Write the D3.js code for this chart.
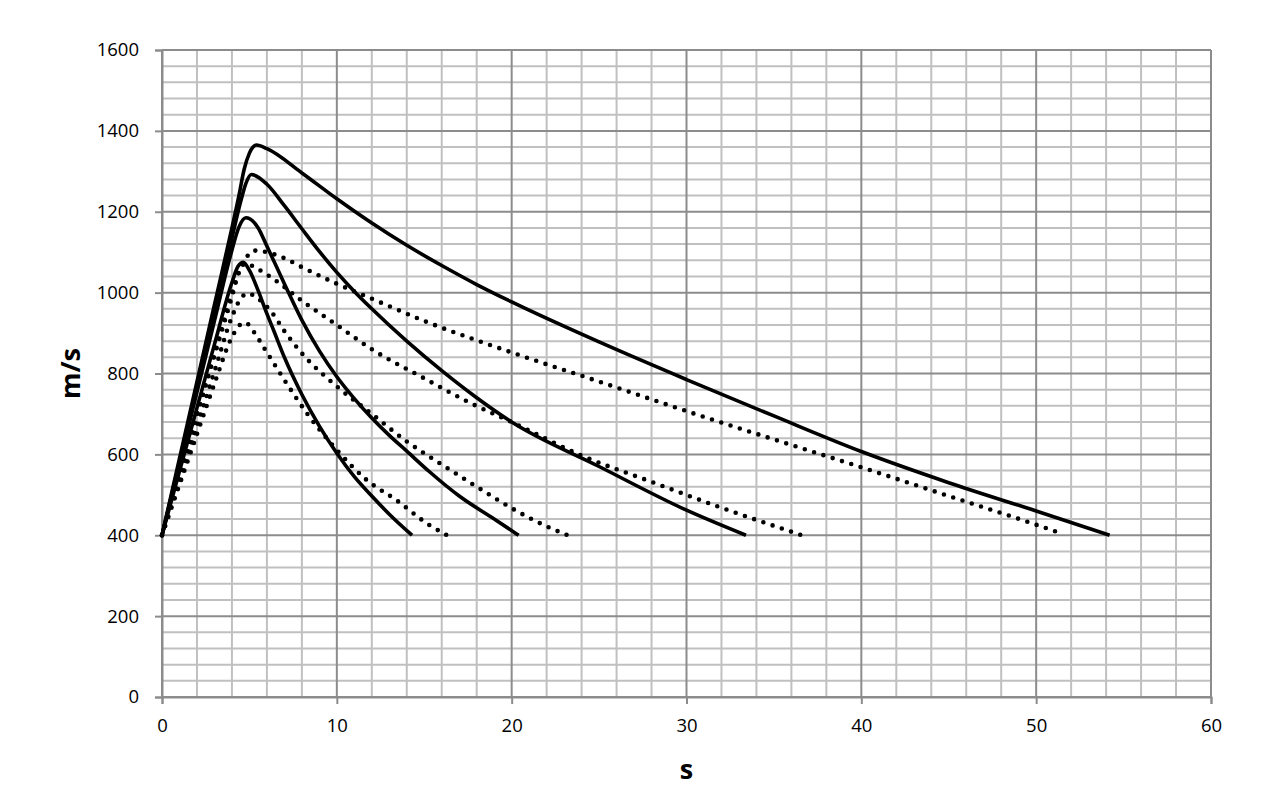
<!DOCTYPE html>
<html>
<head>
<meta charset="utf-8">
<script src="https://cdn.jsdelivr.net/npm/d3@7"></script>
<style>
  html, body { margin: 0; padding: 0; background: #ffffff; }
  svg { display: block; }
  text { font-family: "Open Sans", "Liberation Sans", sans-serif; fill: #000; }
</style>
</head>
<body>
<svg id="chart" width="1263" height="807"></svg>
<script>
// ---- data (s, m/s) ----
const xTicks = [0, 10, 20, 30, 40, 50, 60];
const yTicks = [0, 200, 400, 600, 800, 1000, 1200, 1400, 1600];
const xLabel = "s";
const yLabel = "m/s";

const solid1 = [[0,400],[1,590],[2,780],[3,970],[4,1160],[4.4,1240],[4.7,1305],[5.0,1345],[5.4,1365],[6,1356],[8,1296],[10,1232],[12,1172],[14,1117],[16,1067],[18,1020],[20,977],[25,878],[30,785],[35,695],[40,607],[45,530],[50,460],[54.2,400]];
const solid2 = [[0,400],[1,580],[2,765],[3,950],[4,1135],[4.5,1225],[4.8,1270],[5.1,1292],[6,1268],[7,1215],[8,1158],[9,1102],[10,1050],[11,1003],[12,960],[14,880],[16,807],[18,740],[20,680],[25,570],[30,462],[33.4,400]];
const solid3 = [[0,400],[1,577],[2,754],[3,930],[4,1105],[4.4,1162],[4.8,1185],[5.5,1160],[6,1115],[7,1022],[8,932],[9,856],[10,792],[11,738],[12,690],[13,647],[14,608],[15.3,557],[17,497],[19,440],[20.4,400]];
const solid4 = [[0,400],[1,558],[2,715],[3,872],[4,1025],[4.35,1065],[4.65,1075],[5,1055],[5.5,1005],[6,948],[6.4,905],[7,840],[8,748],[9,670],[10,603],[11,545],[12,497],[13,452],[14.3,400]];

const dotted1 = [[0,400],[1,550],[2,700],[3,850],[4,1000],[4.5,1062],[5,1096],[5.3,1104],[6,1100],[7,1085],[8,1063],[10,1022],[12,985],[15,930],[20,852],[25,780],[30,707],[35,637],[40,568],[45,497],[50,426],[51.2,408]];
const dotted2 = [[0,400],[1,548],[2,696],[3,844],[4,990],[4.4,1050],[4.75,1072],[5.5,1058],[6.5,1030],[8,980],[10,920],[12,860],[15,788],[17.5,730],[20,680],[24,597],[28,532],[32,468],[36.6,400]];
const dotted3 = [[0,400],[1,535],[2,670],[3,805],[4,940],[4.5,985],[4.9,998],[5.5,985],[6.3,950],[7,905],[8,850],[10,768],[12,700],[14,632],[16,575],[18,520],[20,467],[22,422],[23.2,400]];
const dotted4 = [[0,400],[1,525],[2,650],[3,775],[4,890],[4.4,918],[4.75,926],[5.3,900],[5.8,866],[7,784],[8.3,701],[10,611],[11.7,537],[13.4,487],[15.3,425],[16.3,400]];

const solidSeries = [solid1, solid2, solid3, solid4];
const dottedSeries = [dotted1, dotted2, dotted3, dotted4];

// ---- layout ----
const svg = d3.select("#chart");
const margin = {left: 162, top: 50, right: 52, bottom: 110};
const W = 1263 - margin.left - margin.right;   // 1049
const H = 807 - margin.top - margin.bottom;    // 647

const x = d3.scaleLinear().domain([0, 60]).range([0, W]);
const y = d3.scaleLinear().domain([0, 1600]).range([H, 0]);

const g = svg.append("g").attr("transform", `translate(${margin.left},${margin.top})`);

// minor grid
const xMinor = d3.range(0, 61, 2).filter(v => v % 10 !== 0);
const yMinor = d3.range(0, 1601, 40).filter(v => v % 200 !== 0);
g.append("g").selectAll("line").data(xMinor).join("line")
  .attr("x1", d => x(d)).attr("x2", d => x(d)).attr("y1", 0).attr("y2", H)
  .attr("stroke", "#c0c0c0").attr("stroke-width", 2);
g.append("g").selectAll("line").data(yMinor).join("line")
  .attr("x1", 0).attr("x2", W).attr("y1", d => y(d)).attr("y2", d => y(d))
  .attr("stroke", "#c0c0c0").attr("stroke-width", 2);

// major grid
g.append("g").selectAll("line").data(xTicks).join("line")
  .attr("x1", d => x(d)).attr("x2", d => x(d)).attr("y1", 0).attr("y2", H)
  .attr("stroke", "#8c8c8c").attr("stroke-width", 2);
g.append("g").selectAll("line").data(yTicks).join("line")
  .attr("x1", 0).attr("x2", W).attr("y1", d => y(d)).attr("y2", d => y(d))
  .attr("stroke", "#8c8c8c").attr("stroke-width", 2);

// axes
const xAxis = d3.axisBottom(x).tickValues(xTicks).tickSize(7).tickPadding(15).tickFormat(d3.format("d"));
const yAxis = d3.axisLeft(y).tickValues(yTicks).tickSize(7).tickPadding(16).tickFormat(d3.format("d"));

const gx = g.append("g").attr("transform", `translate(0,${H})`).call(xAxis);
const gy = g.append("g").call(yAxis);
[gx, gy].forEach(a => {
  a.select(".domain").attr("stroke", "#8c8c8c").attr("stroke-width", 2);
  a.selectAll(".tick line").attr("stroke", "#8c8c8c").attr("stroke-width", 2);
  a.selectAll(".tick text").style("font-size", "18.5px").attr("fill", "#000")
    .style("font-family", "'Open Sans', 'Liberation Sans', sans-serif");
});

// lines
const line = d3.line().x(d => x(d[0])).y(d => y(d[1])).curve(d3.curveMonotoneX);

g.append("g").selectAll("path").data(solidSeries).join("path")
  .attr("d", line).attr("fill", "none").attr("stroke", "#000")
  .attr("stroke-width", 3.6).attr("stroke-linejoin", "round").attr("stroke-linecap", "butt");

g.append("g").selectAll("path").data(dottedSeries).join("path")
  .attr("d", line).attr("fill", "none").attr("stroke", "#000")
  .attr("stroke-width", 4.6).attr("stroke-linecap", "round")
  .attr("stroke-dasharray", function() {
    const L = this.getTotalLength();
    const n = Math.max(1, Math.round(L / 9.8));
    return `0,${(L / n) - 0.02}`;
  });

// axis titles
svg.append("text").attr("x", margin.left + W / 2).attr("y", 779)
  .attr("text-anchor", "middle").style("font-size", "27px").style("font-weight", "bold")
  .text(xLabel);
svg.append("text").attr("transform", `translate(80,${margin.top + H / 2}) rotate(-90)`)
  .attr("text-anchor", "middle").style("font-size", "27px").style("font-weight", "bold")
  .text(yLabel);
</script>
</body>
</html>
